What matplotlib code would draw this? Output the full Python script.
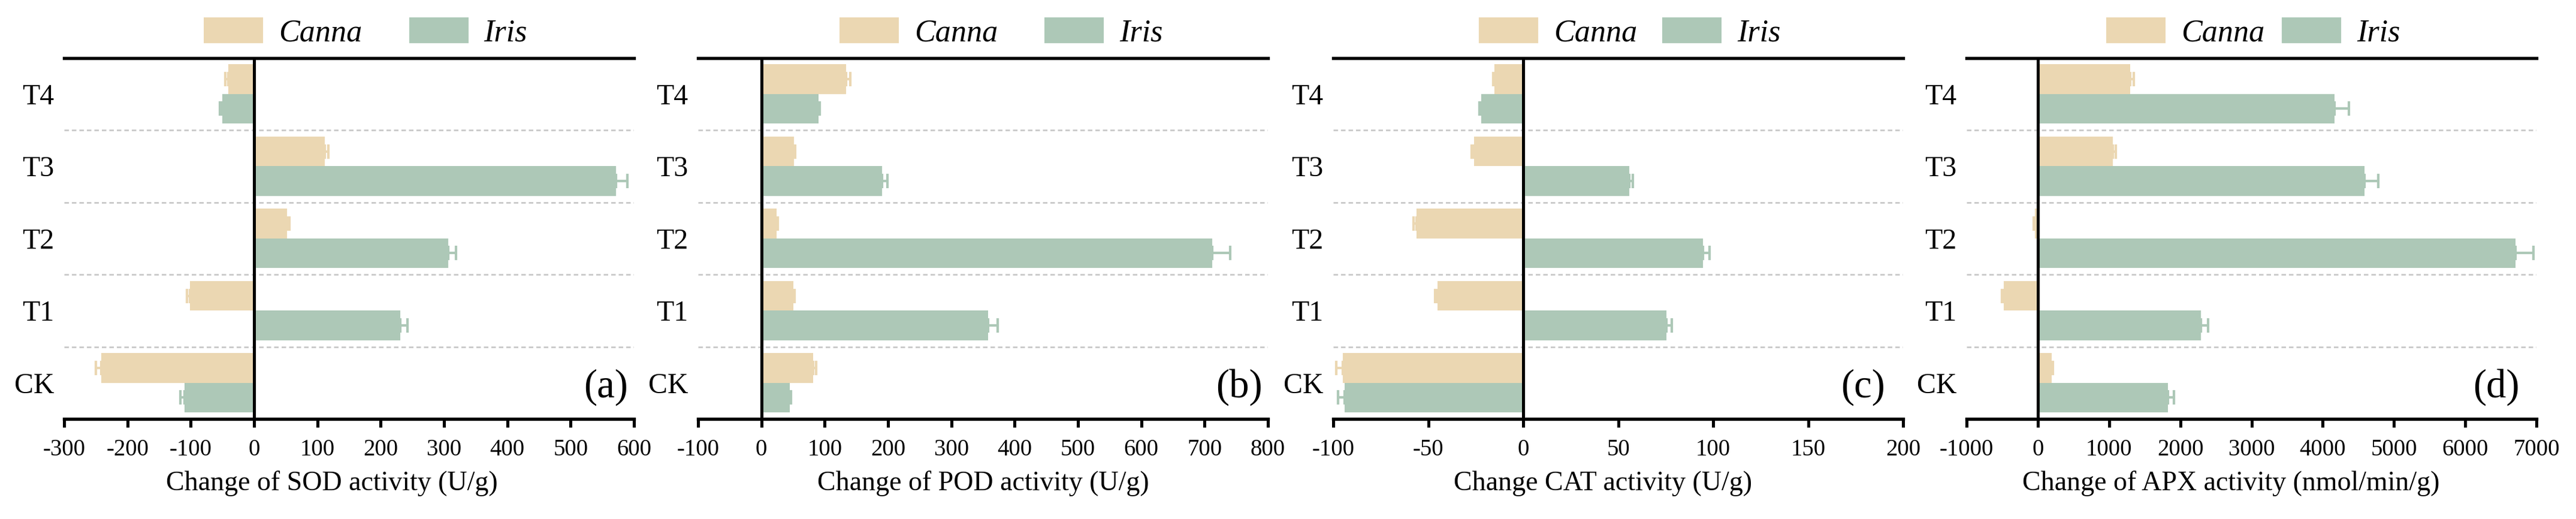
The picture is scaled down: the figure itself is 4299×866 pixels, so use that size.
import numpy as np
import matplotlib
matplotlib.use('Agg')
import matplotlib.pyplot as plt

plt.rcParams['font.family'] = ['Liberation Serif', 'DejaVu Serif']
plt.rcParams['axes.unicode_minus'] = False

groups = ['CK', 'T1', 'T2', 'T3', 'T4']

# SOD (U/g)
sod_canna = [-241, -101, 52, 112, -41]
sod_canna_err = [9, 5, 4, 5, 4]
sod_iris = [-110, 231, 307, 572, -50]
sod_iris_err = [6, 11, 12, 18, 4]

# POD (U/g)
pod_canna = [82, 50, 24, 51, 134]
pod_canna_err = [4, 2, 2, 2, 6]
pod_iris = [45, 358, 712, 191, 90]
pod_iris_err = [2, 15, 28, 8, 2]

# CAT (U/g)
cat_canna = [-95, -45, -56, -26, -15]
cat_canna_err = [3.3, 1.3, 1.6, 1.1, 0.8]
cat_iris = [-94, 75.4, 94.5, 55.7, -22]
cat_iris_err = [3.6, 2.9, 3.5, 1.9, 1.1]

# APX (nmol/min/g)
apx_canna = [192, -480, -40, 1050, 1293]
apx_canna_err = [17, 23, 16, 45, 51]
apx_iris = [1824, 2292, 6708, 4585, 4167]
apx_iris_err = [90, 102, 249, 198, 203]

c_canna = '#EBD7B2'
c_iris = '#ADC8B7'

panels = [
    dict(canna=sod_canna, canna_err=sod_canna_err, iris=sod_iris, iris_err=sod_iris_err,
         xlabel='Change of SOD activity (U/g)', xlim=(-300, 600), step=100, tag='(a)',
         leg_x=0.529, colsp=1.5, lab_x=0.47, tag_x=0.99),
    dict(canna=pod_canna, canna_err=pod_canna_err, iris=pod_iris, iris_err=pod_iris_err,
         xlabel='Change of POD activity (U/g)', xlim=(-100, 800), step=100, tag='(b)',
         leg_x=0.532, colsp=1.5, lab_x=0.50, tag_x=0.99),
    dict(canna=cat_canna, canna_err=cat_canna_err, iris=cat_iris, iris_err=cat_iris_err,
         xlabel='Change CAT activity (U/g)', xlim=(-100, 200), step=50, tag='(c)',
         leg_x=0.52, colsp=0.8, lab_x=0.473, tag_x=0.968),
    dict(canna=apx_canna, canna_err=apx_canna_err, iris=apx_iris, iris_err=apx_iris_err,
         xlabel='Change of APX activity (nmol/min/g)', xlim=(-1000, 7000), step=1000, tag='(d)',
         leg_x=0.503, colsp=0.55, lab_x=0.464, tag_x=0.97),
]

W, H = 4299, 866
fig = plt.figure(figsize=(W / 300, H / 300), dpi=300)
lefts = [107, 1165, 2225, 3282]
ax_w = 951
bottom = 1 - 699 / H
height = (699 - 96.5) / H


def one_sided(vals, errs):
    # error bar only on the outer side of each bar
    vals = np.asarray(vals, float)
    errs = np.asarray(errs, float)
    lo = np.where(vals < 0, errs, 0)
    hi = np.where(vals >= 0, errs, 0)
    return [lo, hi]


y = np.arange(len(groups))
bh = 0.41

for left, p in zip(lefts, panels):
    ax = fig.add_axes([left / W, bottom, ax_w / W, height])

    ek = dict(elinewidth=1.0, capthick=1.0)
    ax.barh(y + bh / 2, p['canna'], height=bh, color=c_canna, label='Canna',
            xerr=one_sided(p['canna'], p['canna_err']), ecolor=c_canna,
            capsize=2.8, error_kw=ek, zorder=2)
    ax.barh(y - bh / 2, p['iris'], height=bh, color=c_iris, label='Iris',
            xerr=one_sided(p['iris'], p['iris_err']), ecolor=c_iris,
            capsize=2.8, error_kw=ek, zorder=2)

    for yy in y[:-1] + 0.5:
        ax.axhline(yy, color='#C4C4C4', lw=0.6, ls=(0, (3, 2)), zorder=1)
    ax.axvline(0, color='black', lw=1.2, zorder=3)

    ax.set_xlim(*p['xlim'])
    ax.set_ylim(-0.5, len(groups) - 0.5)
    ax.set_xticks(np.arange(p['xlim'][0], p['xlim'][1] + 1, p['step']))
    ax.set_yticks(y)
    ax.set_yticklabels(groups)

    for s in ['left', 'right']:
        ax.spines[s].set_visible(False)
    for s in ['top', 'bottom']:
        ax.spines[s].set_linewidth(1.3)
    ax.tick_params(axis='x', direction='out', length=3.4, width=1.2, pad=4.5, labelsize=9.3)
    ax.tick_params(axis='y', length=0, pad=4, labelsize=11.5)

    ax.set_xlabel(p['xlabel'], fontsize=11, labelpad=4, x=p['lab_x'])
    ax.text(p['tag_x'], 0.036, p['tag'], transform=ax.transAxes, ha='right', va='bottom',
            fontsize=16)

    ax.legend(loc='center', bbox_to_anchor=(p['leg_x'], 1.07), ncol=2, frameon=False,
              prop=dict(family='Liberation Serif', style='italic', size=12.5),
              handlelength=1.9, handleheight=0.9, handletextpad=0.5,
              columnspacing=p['colsp'], borderaxespad=0, borderpad=0)

fig.savefig('out.png', dpi=300)
